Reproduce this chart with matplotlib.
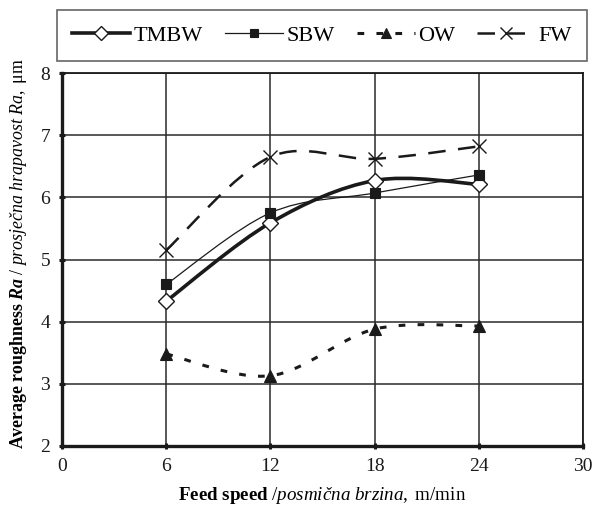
import matplotlib
matplotlib.use('Agg')
import matplotlib.pyplot as plt
from matplotlib.path import Path
from matplotlib.patches import PathPatch
from matplotlib.lines import Line2D

# Data
feed_speed = [6, 12, 18, 24]
tmbw = [4.33, 5.59, 6.27, 6.21]
sbw = [4.60, 5.75, 6.07, 6.36]
ow = [3.48, 3.13, 3.88, 3.93]
fw = [5.15, 6.65, 6.62, 6.82]
series_names = ['TMBW', 'SBW', 'OW', 'FW']
x_ticks = [0, 6, 12, 18, 24, 30]
y_ticks = [2, 3, 4, 5, 6, 7, 8]

plt.rcParams['font.family'] = ['Liberation Serif', 'DejaVu Serif']
plt.rcParams['mathtext.fontset'] = 'custom'
plt.rcParams['mathtext.rm'] = 'Liberation Serif'
plt.rcParams['mathtext.it'] = 'Liberation Serif:italic'
plt.rcParams['mathtext.bf'] = 'Liberation Serif:bold'
plt.rcParams['mathtext.bfit'] = 'Liberation Serif:italic:bold'

INK = '#1a1a1a'


def smooth_path(x, y):
    # Excel-like smoothed line (Catmull-Rom as cubic Bezier)
    n = len(x)
    verts = [(x[0], y[0])]
    codes = [Path.MOVETO]
    for i in range(n - 1):
        a = i - 1 if i > 0 else i
        d = i + 2 if i + 2 < n else i + 1
        c1 = (x[i] + (x[i + 1] - x[a]) / 6, y[i] + (y[i + 1] - y[a]) / 6)
        c2 = (x[i + 1] - (x[d] - x[i]) / 6, y[i + 1] - (y[d] - y[i]) / 6)
        verts += [c1, c2, (x[i + 1], y[i + 1])]
        codes += [Path.CURVE4] * 3
    return Path(verts, codes)


fig = plt.figure(figsize=(5.95, 5.08), dpi=100)
ax = fig.add_axes([62 / 595, 1 - 446 / 508, 521 / 595, 373 / 508])

styles = [
    dict(data=tmbw, lw=2.6, ls='-', marker='D', ms=8, mfc='white', mew=1.0),
    dict(data=sbw, lw=0.9, ls='-', marker='s', ms=6.5, mfc=INK, mew=0.8),
    dict(data=ow, lw=2.2, ls=(0, (2.2, 4.0)), marker='^', ms=8, mfc=INK, mew=0.8),
    dict(data=fw, lw=1.8, ls=(0, (7, 5)), marker='x', ms=10, mfc=INK, mew=1.0),
]

handles = []
for name, st in zip(series_names, styles):
    patch = PathPatch(smooth_path(feed_speed, st['data']), fill=False,
                      edgecolor=INK, lw=st['lw'], linestyle=st['ls'], zorder=3)
    ax.add_patch(patch)
    ax.plot(feed_speed, st['data'], linestyle='none', marker=st['marker'],
            ms=st['ms'], mfc=st['mfc'], mec=INK, mew=st['mew'], zorder=4)
    handles.append(Line2D([], [], color=INK, lw=st['lw'], linestyle=st['ls'],
                          marker=st['marker'], ms=st['ms'] * 0.85,
                          mfc=st['mfc'], mec=INK, mew=st['mew'], label=name))

ax.set_xlim(0, 30)
ax.set_ylim(2, 8)
ax.set_xticks(x_ticks)
ax.set_yticks(y_ticks)
ax.grid(True, color='#2a2a2a', lw=1.1, zorder=1)
ax.set_axisbelow(True)
for side in ['left', 'bottom']:
    ax.spines[side].set_linewidth(2.4)
    ax.spines[side].set_color(INK)
for side in ['top', 'right']:
    ax.spines[side].set_linewidth(1.3)
    ax.spines[side].set_color(INK)
ax.tick_params(axis='both', direction='inout', length=5, width=2.2,
               colors=INK, labelsize=14, pad=6)

ax.set_xlabel(r'$\mathbf{Feed\ speed}\ \mathit{/posmična\ brzina}\mathrm{,\ m/min}$',
              fontsize=13.7)
ax.xaxis.set_label_coords(0.5, -0.105)
ax.set_ylabel(r'$\mathbf{Average\ roughness}\ \mathbfit{Ra}\ \mathit{/\ prosječna\ hrapavost\ Ra}\mathrm{,\ μm}$',
              fontsize=12.9)
ax.yaxis.set_label_coords(-0.064, 0.517)

leg = fig.legend(handles=handles, ncol=4, loc='lower left',
                 bbox_to_anchor=(57 / 595, 1 - 61 / 508, 530 / 595, 49 / 508),
                 mode='expand', fontsize=16, frameon=True, fancybox=False,
                 handlelength=2.6, handletextpad=0.15, borderpad=0.68,
                 borderaxespad=0)
leg.get_frame().set_edgecolor('#404040')
leg.get_frame().set_linewidth(1.2)

fig.savefig('out.png', dpi=100)
